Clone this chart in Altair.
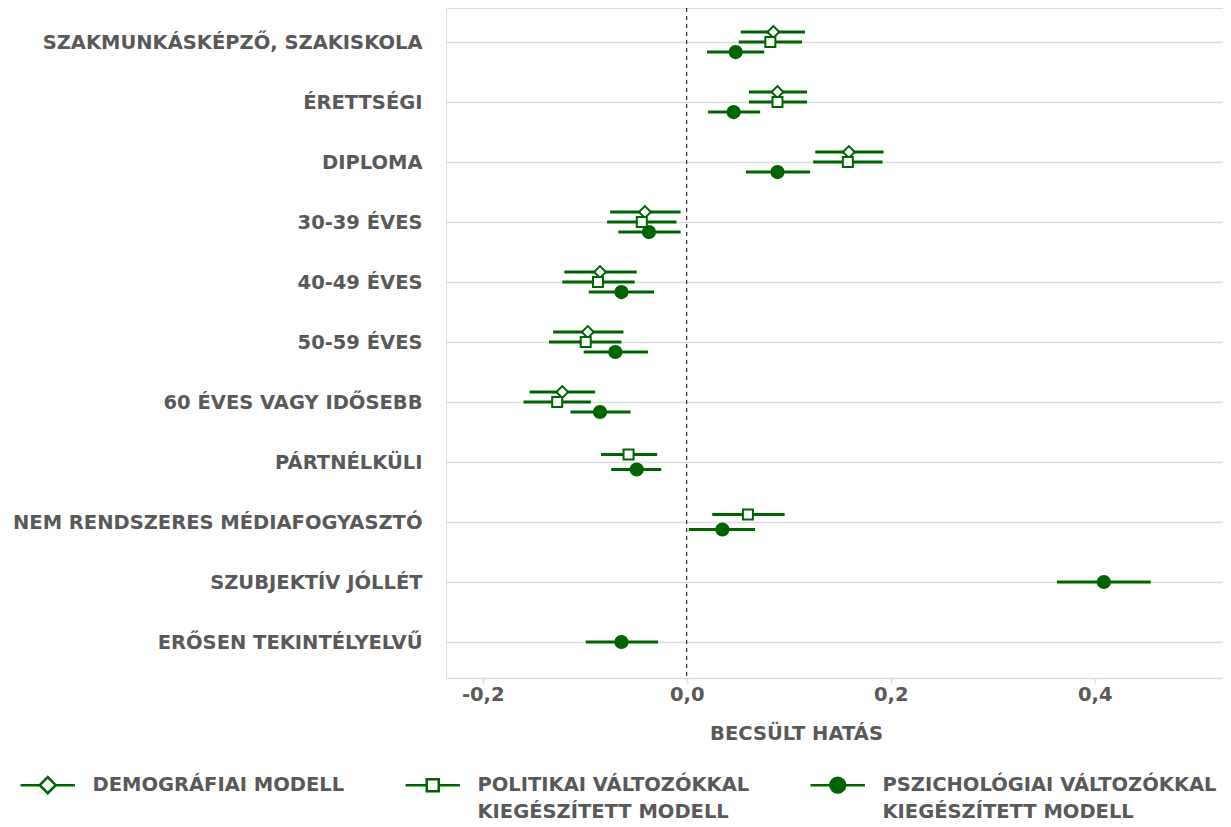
import json
import altair as alt
import pandas as pd

# ---------------- data ----------------
rows = [
    "SZAKMUNKÁSKÉPZŐ, SZAKISKOLA",
    "ÉRETTSÉGI",
    "DIPLOMA",
    "30-39 ÉVES",
    "40-49 ÉVES",
    "50-59 ÉVES",
    "60 ÉVES VAGY IDŐSEBB",
    "PÁRTNÉLKÜLI",
    "NEM RENDSZERES MÉDIAFOGYASZTÓ",
    "SZUBJEKTÍV JÓLLÉT",
    "ERŐSEN TEKINTÉLYELVŰ",
]
models = [
    "DEMOGRÁFIAI MODELL|",
    "POLITIKAI VÁLTOZÓKKAL|KIEGÉSZÍTETT MODELL",
    "PSZICHOLÓGIAI VÁLTOZÓKKAL|KIEGÉSZÍTETT MODELL",
]
model_shapes = ["diamond", "square", "circle"]

demo_rows = rows[:7]
demo_est = [0.085, 0.089, 0.159, -0.041, -0.085, -0.097, -0.122]
demo_lo = [0.053, 0.061, 0.126, -0.075, -0.120, -0.131, -0.154]
demo_hi = [0.116, 0.118, 0.193, -0.006, -0.049, -0.062, -0.090]

pol_rows = rows[:9]
pol_est = [0.082, 0.089, 0.158, -0.044, -0.087, -0.099, -0.127, -0.057, 0.060]
pol_lo = [0.051, 0.061, 0.124, -0.078, -0.122, -0.135, -0.160, -0.084, 0.025]
pol_hi = [0.113, 0.118, 0.192, -0.010, -0.051, -0.064, -0.094, -0.029, 0.096]

psy_rows = rows[:]
psy_est = [0.048, 0.046, 0.089, -0.037, -0.064, -0.070, -0.085, -0.049, 0.035, 0.409, -0.064]
psy_lo = [0.020, 0.021, 0.058, -0.067, -0.096, -0.101, -0.114, -0.074, 0.002, 0.363, -0.099]
psy_hi = [0.076, 0.072, 0.121, -0.006, -0.032, -0.038, -0.055, -0.025, 0.067, 0.455, -0.028]

x_ticks = [-0.2, 0.0, 0.2, 0.4]

# ---------------- table ----------------
frames = []
for m, rr, est, lo, hi in [
    (models[0], demo_rows, demo_est, demo_lo, demo_hi),
    (models[1], pol_rows, pol_est, pol_lo, pol_hi),
    (models[2], psy_rows, psy_est, psy_lo, psy_hi),
]:
    frames.append(pd.DataFrame({"label": rr, "model": m, "est": est, "lo": lo, "hi": hi}))
df = pd.concat(frames, ignore_index=True)
df["midx"] = df["model"].map({m: i for i, m in enumerate(models)})
df = df.sort_values(["label", "midx"]).reset_index(drop=True)
df["row"] = df["label"].map({r: len(rows) - i for i, r in enumerate(rows)})
n = df.groupby("label")["model"].transform("count")
k = df.groupby("label").cumcount()
W = 0.5  # dodge width (in row units)
df["ypos"] = df["row"] + (W / 2 - W / (2 * n) - k * W / n)

zero = pd.DataFrame({"x": [0.0]})

GREEN = "#006400"
TXT = "#595959"
GRID = "#dcdcdc"
FONT = "DejaVu Sans"
FS = 19.5

label_list = [""] + list(reversed(rows))
y_label_expr = json.dumps(label_list, ensure_ascii=False) + "[datum.value]"
x_label_expr = "replace(replace(format(datum.value, '.1f'), '.', ','), '\u2212', '-')"

xscale = alt.Scale(domain=[-0.236, 0.5258], nice=False, zero=False)
yscale = alt.Scale(domain=[0.4, 11.5667], nice=False, zero=False)

x_axis = alt.Axis(
    values=x_ticks, labelExpr=x_label_expr, grid=False,
    domainColor=GRID, domainWidth=1.5, tickColor=GRID, tickWidth=1.5, tickSize=5,
    labelFont=FONT, labelFontSize=FS, labelFontWeight="bold", labelColor=TXT, labelPadding=2,
    title="BECSÜLT HATÁS", titleFont=FONT, titleFontSize=FS, titleFontWeight="bold",
    titleColor=TXT, titleX=350, titleY=55, titleBaseline="middle", titleAlign="center",
)
y_axis = alt.Axis(
    values=list(range(1, len(rows) + 1)), labelExpr=y_label_expr,
    grid=True, gridColor=GRID, gridWidth=1.5, domain=False, ticks=False,
    labelFont=FONT, labelFontSize=FS, labelFontWeight="bold", labelColor=TXT,
    labelPadding=24, labelLimit=460, title=None,
)

base = alt.Chart(df)

zero_line = alt.Chart(zero).mark_rule(color="black", strokeDash=[4, 4], strokeWidth=1).encode(
    x=alt.X("x:Q", scale=xscale, axis=x_axis)
)

bars = base.mark_rule(color=GREEN, strokeWidth=3).encode(
    x=alt.X("lo:Q", scale=xscale, axis=x_axis),
    x2="hi:Q",
    y=alt.Y("ypos:Q", scale=yscale, axis=y_axis),
)

point_layers = []
for m, shp, fillc, sz in zip(models, model_shapes, ["white", "white", GREEN], [140, 100, 150]):
    point_layers.append(
        base.transform_filter(alt.datum.model == m).mark_point(
            shape=shp, filled=True, fill=fillc, opacity=1, stroke=GREEN, strokeWidth=2, size=sz
        ).encode(
            x=alt.X("est:Q", scale=xscale, axis=x_axis),
            y=alt.Y("ypos:Q", scale=yscale, axis=y_axis),
        )
    )

# legend-only layer (draws no marks; legend symbols = line + marker)
D = 1.125  # vertical shift of the symbol (in symbol units) to line up with the first label line
paths = [
    f"M-3.4,{D}H-1M1,{D}H3.4M-1,{D}L0,{D-1}L1,{D}L0,{D+1}Z",
    f"M-3.4,{D}H-0.75M0.75,{D}H3.4M-0.75,{D-0.75}H0.75V{D+0.75}H-0.75Z",
    f"M-3.4,{D}H3.4"
    + "".join(
        f"M-{r},{D}A{r},{r},0,1,1,{r},{D}A{r},{r},0,1,1,-{r},{D}Z" for r in [0.92, 0.66, 0.4, 0.14]
    ),
]
leg = alt.Legend(
    title=None, orient="none", legendX=-408, legendY=758, direction="horizontal", columns=3,
    columnPadding=55, padding=0, symbolSize=256, symbolStrokeColor=GREEN, symbolStrokeWidth=2.5,
    symbolOpacity=1, labelFont=FONT, labelFontSize=FS,
    labelFontWeight="bold", labelColor=TXT, labelOffset=35, labelLimit=500,
    labelBaseline="top", labelExpr="split(datum.label, '|')",
)
legend_layer = base.transform_filter("false").mark_point(
    filled=False, opacity=1, color=GREEN, stroke=GREEN, strokeWidth=2.5
).encode(
    x=alt.X("est:Q", scale=xscale, axis=x_axis),
    y=alt.Y("ypos:Q", scale=yscale, axis=y_axis),
    shape=alt.Shape("model:N", scale=alt.Scale(domain=models, range=paths), legend=leg),
)

chart = alt.layer(zero_line, bars, *point_layers, legend_layer).properties(
    width=777, height=670,
    autosize=alt.AutoSizeParams(type="none"),
    padding={"left": 438, "top": 0, "right": 0, "bottom": 149},
).configure_view(stroke=None).configure(
    style={"guide-label": {"lineHeight": 27}}
)

chart.save("out.html", embed_options={"renderer": "svg", "actions": False})
